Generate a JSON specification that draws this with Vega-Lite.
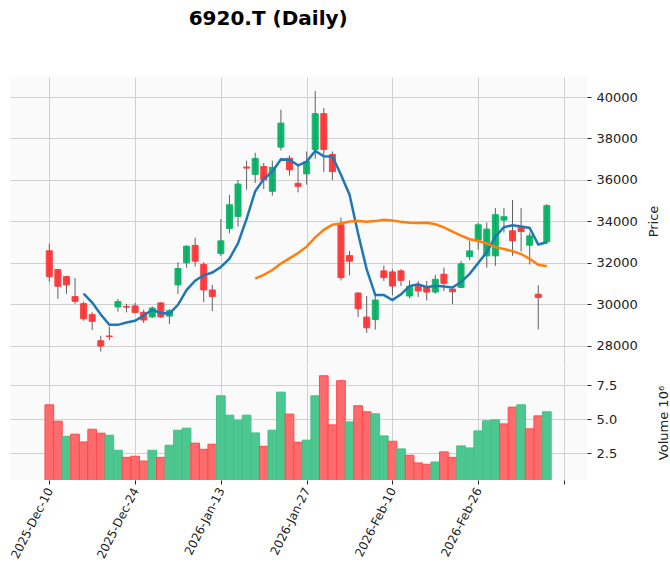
{
  "$schema": "https://vega.github.io/schema/vega-lite/v6.json",
  "background": "white",
  "padding": {"left": 8, "top": 9, "right": 0, "bottom": 0},
  "title": {
    "text": "6920.T (Daily)",
    "anchor": "start",
    "dx": 180,
    "offset": 48,
    "font": "DejaVu Sans",
    "fontSize": 20,
    "fontWeight": "bold",
    "color": "#000000"
  },
  "config": {
    "font": "DejaVu Sans",
    "view": {"fill": "#fafafa", "stroke": null},
    "axis": {
      "gridColor": "#d0d0d0",
      "gridWidth": 1,
      "domain": false,
      "tickColor": "#222222",
      "tickSize": 4,
      "labelPadding": 5,
      "labelFont": "DejaVu Sans",
      "labelFontSize": 13,
      "labelColor": "#222222",
      "titleFont": "DejaVu Sans",
      "titleFontSize": 13,
      "titleFontWeight": "normal",
      "titleColor": "#222222"
    }
  },
  "datasets": {
    "ohlc": [
      {"date": "2025-12-10", "i": 0, "o": 32580, "h": 32930, "l": 31090, "c": 31330, "v": 6.05, "vdir": "down", "ma5": null, "ma25": null},
      {"date": "2025-12-11", "i": 1, "o": 31680, "h": 31700, "l": 30260, "c": 30870, "v": 4.85, "vdir": "down", "ma5": null, "ma25": null},
      {"date": "2025-12-12", "i": 2, "o": 31340, "h": 31360, "l": 30500, "c": 30935, "v": 3.75, "vdir": "up", "ma5": null, "ma25": null},
      {"date": "2025-12-15", "i": 3, "o": 30370, "h": 31270, "l": 30020, "c": 30140, "v": 3.90, "vdir": "down", "ma5": null, "ma25": null},
      {"date": "2025-12-16", "i": 4, "o": 30030, "h": 30130, "l": 29210, "c": 29300, "v": 3.33, "vdir": "down", "ma5": 30515, "ma25": null},
      {"date": "2025-12-17", "i": 5, "o": 29500, "h": 29610, "l": 28760, "c": 29175, "v": 4.26, "vdir": "down", "ma5": 30084, "ma25": null},
      {"date": "2025-12-18", "i": 6, "o": 28240, "h": 28480, "l": 27720, "c": 27985, "v": 3.97, "vdir": "down", "ma5": 29507, "ma25": null},
      {"date": "2025-12-19", "i": 7, "o": 28470, "h": 28920, "l": 28270, "c": 28445, "v": 3.82, "vdir": "up", "ma5": 29009, "ma25": null},
      {"date": "2025-12-22", "i": 8, "o": 29870, "h": 30260, "l": 29640, "c": 30130, "v": 2.72, "vdir": "up", "ma5": 29007, "ma25": null},
      {"date": "2025-12-23", "i": 9, "o": 29890, "h": 30020, "l": 29610, "c": 29860, "v": 2.20, "vdir": "down", "ma5": 29119, "ma25": null},
      {"date": "2025-12-24", "i": 10, "o": 29920, "h": 30065, "l": 29560, "c": 29610, "v": 2.28, "vdir": "down", "ma5": 29206, "ma25": null},
      {"date": "2025-12-25", "i": 11, "o": 29610, "h": 29740, "l": 29100, "c": 29240, "v": 1.93, "vdir": "down", "ma5": 29457, "ma25": null},
      {"date": "2025-12-26", "i": 12, "o": 29390, "h": 29900, "l": 29340, "c": 29820, "v": 2.72, "vdir": "up", "ma5": 29732, "ma25": null},
      {"date": "2025-12-29", "i": 13, "o": 30065, "h": 30110, "l": 29340, "c": 29390, "v": 2.20, "vdir": "down", "ma5": 29584, "ma25": null},
      {"date": "2025-12-30", "i": 14, "o": 29430, "h": 29775, "l": 29050, "c": 29690, "v": 3.09, "vdir": "up", "ma5": 29550, "ma25": null},
      {"date": "2026-01-05", "i": 15, "o": 30935, "h": 32030, "l": 30500, "c": 31725, "v": 4.19, "vdir": "up", "ma5": 29973, "ma25": null},
      {"date": "2026-01-06", "i": 16, "o": 32000, "h": 32850, "l": 31760, "c": 32800, "v": 4.34, "vdir": "up", "ma5": 30685, "ma25": null},
      {"date": "2026-01-07", "i": 17, "o": 32840, "h": 33210, "l": 31820, "c": 32080, "v": 3.24, "vdir": "down", "ma5": 31137, "ma25": null},
      {"date": "2026-01-08", "i": 18, "o": 31920, "h": 32030, "l": 30100, "c": 30690, "v": 2.79, "vdir": "down", "ma5": 31397, "ma25": null},
      {"date": "2026-01-09", "i": 19, "o": 30690, "h": 30935, "l": 29675, "c": 30370, "v": 3.16, "vdir": "down", "ma5": 31533, "ma25": null},
      {"date": "2026-01-13", "i": 20, "o": 32450, "h": 34110, "l": 32330, "c": 33060, "v": 6.71, "vdir": "up", "ma5": 31800, "ma25": null},
      {"date": "2026-01-14", "i": 21, "o": 33660, "h": 35270, "l": 33430, "c": 34800, "v": 5.29, "vdir": "up", "ma5": 32200, "ma25": null},
      {"date": "2026-01-15", "i": 22, "o": 34240, "h": 36000, "l": 33750, "c": 35800, "v": 4.93, "vdir": "up", "ma5": 32944, "ma25": null},
      {"date": "2026-01-16", "i": 23, "o": 36620, "h": 36930, "l": 35530, "c": 36570, "v": 5.29, "vdir": "up", "ma5": 34120, "ma25": null},
      {"date": "2026-01-19", "i": 24, "o": 36270, "h": 37310, "l": 35850, "c": 37030, "v": 3.99, "vdir": "up", "ma5": 35452, "ma25": 31234},
      {"date": "2026-01-20", "i": 25, "o": 36645, "h": 36820, "l": 35560, "c": 36000, "v": 3.01, "vdir": "down", "ma5": 36040, "ma25": 31421},
      {"date": "2026-01-21", "i": 26, "o": 35450, "h": 36930, "l": 35240, "c": 36610, "v": 4.19, "vdir": "up", "ma5": 36402, "ma25": 31650},
      {"date": "2026-01-22", "i": 27, "o": 37580, "h": 39390, "l": 37420, "c": 38740, "v": 6.98, "vdir": "up", "ma5": 36990, "ma25": 31962},
      {"date": "2026-01-23", "i": 28, "o": 37045, "h": 37180, "l": 36210, "c": 36485, "v": 5.37, "vdir": "down", "ma5": 36973, "ma25": 32216},
      {"date": "2026-01-26", "i": 29, "o": 35835, "h": 36690, "l": 35400, "c": 35690, "v": 3.31, "vdir": "down", "ma5": 36705, "ma25": 32472},
      {"date": "2026-01-27", "i": 30, "o": 36290, "h": 37370, "l": 35770, "c": 36885, "v": 3.46, "vdir": "up", "ma5": 36882, "ma25": 32780},
      {"date": "2026-01-28", "i": 31, "o": 37465, "h": 40290, "l": 37015, "c": 39195, "v": 6.71, "vdir": "up", "ma5": 37399, "ma25": 33229},
      {"date": "2026-01-29", "i": 32, "o": 39195, "h": 39465, "l": 36370, "c": 37465, "v": 8.18, "vdir": "down", "ma5": 37144, "ma25": 33589},
      {"date": "2026-01-30", "i": 33, "o": 37225, "h": 37370, "l": 36000, "c": 36400, "v": 4.58, "vdir": "down", "ma5": 37127, "ma25": 33840},
      {"date": "2026-02-02", "i": 34, "o": 33835, "h": 34190, "l": 31155, "c": 31285, "v": 7.82, "vdir": "down", "ma5": 36246, "ma25": 33897},
      {"date": "2026-02-03", "i": 35, "o": 32350, "h": 32575, "l": 31400, "c": 32075, "v": 4.80, "vdir": "up", "ma5": 35284, "ma25": 33996},
      {"date": "2026-02-04", "i": 36, "o": 30540, "h": 30590, "l": 29380, "c": 29785, "v": 5.98, "vdir": "down", "ma5": 33402, "ma25": 34018},
      {"date": "2026-02-05", "i": 37, "o": 29380, "h": 30400, "l": 28620, "c": 28865, "v": 5.54, "vdir": "down", "ma5": 31682, "ma25": 33979},
      {"date": "2026-02-06", "i": 38, "o": 29265, "h": 30400, "l": 28780, "c": 30205, "v": 5.39, "vdir": "up", "ma5": 30443, "ma25": 34012},
      {"date": "2026-02-09", "i": 39, "o": 31610, "h": 31870, "l": 31125, "c": 31285, "v": 3.77, "vdir": "up", "ma5": 30443, "ma25": 34076},
      {"date": "2026-02-10", "i": 40, "o": 31560, "h": 31690, "l": 30430, "c": 30880, "v": 3.38, "vdir": "down", "ma5": 30204, "ma25": 34042},
      {"date": "2026-02-12", "i": 41, "o": 31610, "h": 31690, "l": 30880, "c": 31155, "v": 2.82, "vdir": "up", "ma5": 30478, "ma25": 33976},
      {"date": "2026-02-13", "i": 42, "o": 30400, "h": 31155, "l": 30285, "c": 30865, "v": 2.35, "vdir": "down", "ma5": 30878, "ma25": 33928},
      {"date": "2026-02-16", "i": 43, "o": 30915, "h": 31125, "l": 30350, "c": 30640, "v": 1.79, "vdir": "down", "ma5": 30965, "ma25": 33926},
      {"date": "2026-02-17", "i": 44, "o": 30830, "h": 31125, "l": 30185, "c": 30590, "v": 1.69, "vdir": "down", "ma5": 30826, "ma25": 33934},
      {"date": "2026-02-18", "i": 45, "o": 30590, "h": 31420, "l": 30510, "c": 31205, "v": 1.86, "vdir": "up", "ma5": 30891, "ma25": 33860},
      {"date": "2026-02-19", "i": 46, "o": 31450, "h": 31765, "l": 30640, "c": 31010, "v": 2.60, "vdir": "down", "ma5": 30862, "ma25": 33709},
      {"date": "2026-02-20", "i": 47, "o": 30735, "h": 30760, "l": 30000, "c": 30605, "v": 2.20, "vdir": "down", "ma5": 30810, "ma25": 33501},
      {"date": "2026-02-24", "i": 48, "o": 30815, "h": 32095, "l": 30790, "c": 31950, "v": 3.04, "vdir": "up", "ma5": 31072, "ma25": 33316},
      {"date": "2026-02-25", "i": 49, "o": 32300, "h": 33060, "l": 32125, "c": 32575, "v": 2.89, "vdir": "up", "ma5": 31469, "ma25": 33138},
      {"date": "2026-02-26", "i": 50, "o": 33100, "h": 33945, "l": 32625, "c": 33835, "v": 4.14, "vdir": "up", "ma5": 31995, "ma25": 33051},
      {"date": "2026-02-27", "i": 51, "o": 32335, "h": 33945, "l": 31765, "c": 33625, "v": 4.88, "vdir": "up", "ma5": 32518, "ma25": 32932},
      {"date": "2026-03-02", "i": 52, "o": 32335, "h": 34645, "l": 31850, "c": 34320, "v": 4.95, "vdir": "up", "ma5": 33261, "ma25": 32755},
      {"date": "2026-03-03", "i": 53, "o": 34060, "h": 34645, "l": 33460, "c": 34225, "v": 4.65, "vdir": "down", "ma5": 33716, "ma25": 32665},
      {"date": "2026-03-04", "i": 54, "o": 33545, "h": 35030, "l": 32335, "c": 33060, "v": 5.88, "vdir": "down", "ma5": 33813, "ma25": 32559},
      {"date": "2026-03-05", "i": 55, "o": 33705, "h": 34645, "l": 32545, "c": 33510, "v": 6.05, "vdir": "up", "ma5": 33748, "ma25": 32424},
      {"date": "2026-03-06", "i": 56, "o": 32850, "h": 33460, "l": 31920, "c": 33300, "v": 4.29, "vdir": "down", "ma5": 33683, "ma25": 32189},
      {"date": "2026-03-09", "i": 57, "o": 30485, "h": 30915, "l": 28785, "c": 30320, "v": 5.24, "vdir": "down", "ma5": 32883, "ma25": 31903},
      {"date": "2026-03-10", "i": 58, "o": 33010, "h": 34835, "l": 32900, "c": 34755, "v": 5.54, "vdir": "up", "ma5": 32989, "ma25": 31837}
    ]
  },
  "data": {"name": "ohlc"},
  "spacing": 0,
  "vconcat": [
    {
      "width": 577,
      "height": 288,
      "encoding": {
        "x": {
          "field": "i",
          "type": "quantitative",
          "scale": {"domain": [-4.0, 62.1], "nice": false, "zero": false},
          "axis": {"values": [0, 10, 20, 30, 40, 50, 60], "labels": false, "ticks": false, "domain": false, "title": null, "grid": true}
        }
      },
      "layer": [
        {
          "mark": {"type": "rule", "color": "#606060", "strokeWidth": 1},
          "encoding": {
            "y": {
              "field": "l",
              "type": "quantitative",
              "scale": {"domain": [27070, 40965], "nice": false, "zero": false},
              "axis": {"orient": "right", "values": [28000, 30000, 32000, 34000, 36000, 38000, 40000], "format": "d", "title": "Price", "titleAngle": 270, "titlePadding": 23, "grid": true}
            },
            "y2": {"field": "h"}
          }
        },
        {
          "mark": {"type": "bar", "size": 6, "strokeWidth": 1, "opacity": 0.92},
          "encoding": {
            "y": {"field": "o", "type": "quantitative"},
            "y2": {"field": "c"},
            "color": {"condition": {"test": "datum.c >= datum.o", "value": "#00b060"}, "value": "#fe3032"},
            "stroke": {"condition": {"test": "datum.c >= datum.o", "value": "#00b060"}, "value": "#fe3032"}
          }
        },
        {
          "mark": {"type": "line", "color": "#1f77b4", "strokeWidth": 2.5},
          "encoding": {"y": {"field": "ma5", "type": "quantitative"}}
        },
        {
          "mark": {"type": "line", "color": "#ff7f0e", "strokeWidth": 2.5},
          "encoding": {"y": {"field": "ma25", "type": "quantitative"}}
        }
      ]
    },
    {
      "width": 577,
      "height": 115,
      "mark": {"type": "bar", "width": 8.7, "clip": true, "strokeWidth": 1},
      "encoding": {
        "x": {
          "field": "i",
          "type": "quantitative",
          "scale": {"domain": [-4.0, 62.1], "nice": false, "zero": false},
          "axis": {
            "values": [0, 10, 20, 30, 40, 50, 60],
            "labelExpr": "['2025-Dec-10','2025-Dec-24','2026-Jan-13','2026-Jan-27','2026-Feb-10','2026-Feb-26',''][datum.value / 10]",
            "labelAngle": -63,
            "labelFontSize": 12,
            "labelPadding": 4,
            "title": null,
            "grid": true
          }
        },
        "y": {
          "field": "v",
          "type": "quantitative",
          "scale": {"domain": [0.54, 8.97], "nice": false, "zero": false},
          "axis": {"orient": "right", "values": [2.5, 5.0, 7.5], "format": ".1f", "title": "Volume  10⁶", "titleAngle": 270, "titlePadding": 54, "grid": true}
        },
        "fill": {"field": "vdir", "type": "nominal", "scale": {"domain": ["up", "down"], "range": ["#4dc790", "#fd6b6c"]}, "legend": null},
        "stroke": {"field": "vdir", "type": "nominal", "scale": {"domain": ["up", "down"], "range": ["#45c087", "#fe4a4b"]}, "legend": null}
      }
    }
  ]
}
